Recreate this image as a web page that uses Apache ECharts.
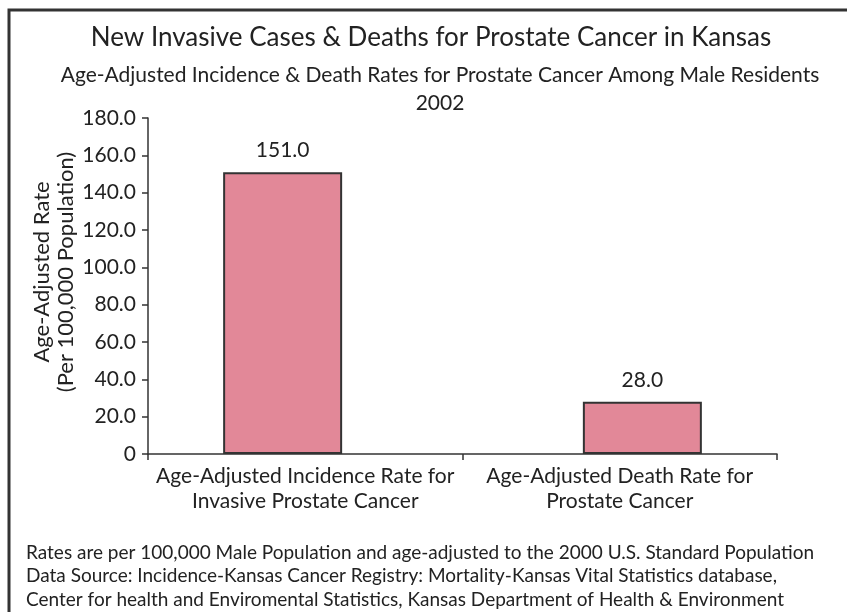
<!DOCTYPE html>
<html>
<head>
<meta charset="utf-8">
<script src="https://cdn.jsdelivr.net/npm/echarts@6/dist/echarts.min.js"></script>
<style>
html,body{margin:0;padding:0;background:#fff;}
#chart{width:847px;height:612px;}
</style>
</head>
<body>
<div id="chart"></div>
<script>
const categories = ['Age-Adjusted Incidence Rate for\nInvasive Prostate Cancer', 'Age-Adjusted Death Rate for\nProstate Cancer'];
const incidenceValues = [151.0, '-'];
const deathValues = ['-', 28.0];
const yMin = 0, yMax = 180, yInterval = 20;
const titleText = 'New Invasive Cases & Deaths for Prostate Cancer in Kansas';
const subtitleText = 'Age-Adjusted Incidence & Death Rates for Prostate Cancer Among Male Residents';
const yearText = '2002';
const yAxisNameLines = ['Age-Adjusted Rate', '(Per 100,000 Population)'];
const footnoteLines = [
  'Rates are per 100,000 Male Population and age-adjusted to the 2000 U.S. Standard Population',
  'Data Source: Incidence-Kansas Cancer Registry: Mortality-Kansas Vital Statistics database,',
  'Center for health and Enviromental Statistics, Kansas Department of Health & Environment'
];

const FONT = 'Lato, "Open Sans", sans-serif';
const TXT = '#222';
const chart = echarts.init(document.getElementById('chart'), null, {renderer: 'canvas'});

const barStyle = {color: '#E28898', borderColor: '#333', borderWidth: 2};
const labelCfg = {show: true, position: 'top', distance: 11, color: TXT, fontFamily: FONT, fontSize: 21,
  formatter: p => Number(p.value).toFixed(1)};

chart.setOption({
  animation: false,
  backgroundColor: '#fff',
  title: [
    {text: titleText, left: 426, top: 20, textAlign: 'center',
      textStyle: {fontFamily: FONT, fontSize: 26, fontWeight: 'normal', color: TXT}},
    {text: subtitleText, left: 435, top: 60, textAlign: 'center',
      textStyle: {fontFamily: FONT, fontSize: 21, fontWeight: 'normal', color: TXT}},
    {text: yearText, left: 435, top: 88, textAlign: 'center',
      textStyle: {fontFamily: FONT, fontSize: 21, fontWeight: 'normal', color: TXT}}
  ],
  grid: {left: 148, right: 70, top: 118, bottom: 158, containLabel: false},
  xAxis: {
    type: 'category', data: categories, boundaryGap: true,
    axisLine: {lineStyle: {color: '#333', width: 1.5}},
    axisTick: {show: true, length: 6, lineStyle: {color: '#333', width: 1.5}},
    axisLabel: {color: TXT, fontFamily: FONT, fontSize: 21, lineHeight: 25, margin: 10, interval: 0}
  },
  yAxis: {
    type: 'value', min: yMin, max: yMax, interval: yInterval,
    axisLine: {show: true, lineStyle: {color: '#333', width: 1.5}},
    axisTick: {show: true, length: 6, lineStyle: {color: '#333', width: 1.5}},
    splitLine: {show: false},
    axisLabel: {color: TXT, fontFamily: FONT, fontSize: 21, margin: 12,
      formatter: v => v === 0 ? '0' : v.toFixed(1)}
  },
  series: [
    {type: 'bar', name: 'Incidence', data: incidenceValues, barWidth: 119, barGap: '-62%',
      itemStyle: barStyle, label: labelCfg},
    {type: 'bar', name: 'Death', data: deathValues, barWidth: 119,
      itemStyle: barStyle, label: labelCfg}
  ],
  graphic: [
    {type: 'rect', shape: {x: 9, y: 10, width: 900, height: 700}, silent: true,
      style: {fill: 'none', stroke: '#333', lineWidth: 3}},
    {type: 'text', x: 54, y: 272, rotation: Math.PI / 2, silent: true,
      style: {text: yAxisNameLines.join('\n'), fill: TXT, font: '22px ' + FONT,
        align: 'center', verticalAlign: 'middle', lineHeight: 24}},
    {type: 'text', x: 26, y: 541, silent: true,
      style: {text: footnoteLines.join('\n'), fill: TXT, font: '19px ' + FONT, lineHeight: 23.5}}
  ]
});
</script>
</body>
</html>
